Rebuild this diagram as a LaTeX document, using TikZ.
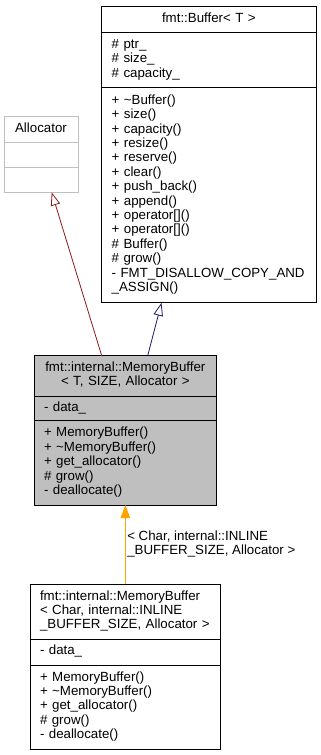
\documentclass[tikz,border=0pt]{standalone}
\usepackage{fontspec}
\setmainfont{Liberation Sans}
\usetikzlibrary{positioning,arrows.meta}
\definecolor{grey75}{HTML}{BFBFBF}
\definecolor{firebrick4}{HTML}{8B1A1A}
\definecolor{midnightblue}{HTML}{191970}
\definecolor{dotorange}{HTML}{FFA500}
\tikzset{
  part/.style={draw, line width=0.8pt, outer sep=0pt, inner xsep=10pt, inner ysep=0pt,
    font=\fontsize{13.3}{14.4}\selectfont,
    execute at begin node=\strut, execute at end node=\strut},
  private/.style={draw=firebrick4, line width=0.8pt, -{Triangle[open, length=13pt, width=9.5pt]}},
  public/.style={draw=midnightblue, line width=0.8pt, -{Triangle[open, length=13pt, width=9.5pt]}},
  tmpl/.style={draw=dotorange, line width=0.8pt, -{Triangle[length=13pt, width=9.5pt]}},
}
\begin{document}
\begin{tikzpicture}[x=1pt, y=-1pt]
  \useasboundingbox (0,0) rectangle (321,755);
  % Allocator
  \node[part, draw=grey75, anchor=north west, minimum height=25.7pt, text width=54pt, align=center] (alloctitle) at (4,116.7) {Allocator};
  \node[part, draw=grey75, below=0pt of alloctitle, minimum height=25pt, text width=54pt] (allocattr) {};
  \node[part, draw=grey75, below=0pt of allocattr, minimum height=25pt, text width=54pt] (allocmeth) {};
  % fmt::Buffer
  \node[part, anchor=north west, minimum height=25.7pt, text width=194.3pt, align=center] (buftitle) at (101.7,6.7) {fmt::Buffer< T >};
  \node[part, below=0pt of buftitle, minimum height=55pt, text width=194.3pt, align=left] (bufattr)
    {\# ptr\_\\\# size\_\\\# capacity\_};
  \node[part, below=0pt of bufattr, minimum height=215.4pt, text width=194.3pt, align=left] (bufmeth)
    {+ \textasciitilde{}Buffer()\\+ size()\\+ capacity()\\+ resize()\\+ reserve()\\+ clear()\\+ push\_back()\\
     + append()\\+ operator[]()\\+ operator[]()\\\# Buffer()\\\# grow()\\- FMT\_DISALLOW\_COPY\_AND\\\_ASSIGN()};
  % fmt::internal::MemoryBuffer
  \node[part, fill=grey75, anchor=north west, minimum height=40.3pt, text width=162.7pt, align=center] (mbtitle) at (34,355.7)
    {fmt::internal::MemoryBuffer\\< T, SIZE, Allocator >};
  \node[part, fill=grey75, below=0pt of mbtitle, minimum height=24.7pt, text width=162.7pt, align=left] (mbattr) {- data\_};
  \node[part, fill=grey75, below=0pt of mbattr, minimum height=84.3pt, text width=162.7pt, align=left] (mbmeth)
    {+ MemoryBuffer()\\+ \textasciitilde{}MemoryBuffer()\\+ get\_allocator()\\\# grow()\\- deallocate()};
  % instance for Char
  \node[part, anchor=north west, minimum height=54.7pt, text width=170.7pt, align=left] (btitle) at (30,584.3)
    {fmt::internal::MemoryBuffer\\< Char, internal::INLINE\\\_BUFFER\_SIZE, Allocator >};
  \node[part, below=0pt of btitle, minimum height=26pt, text width=170.7pt, align=left] (battr) {- data\_};
  \node[part, below=0pt of battr, minimum height=84pt, text width=170.7pt, align=left] (bmeth)
    {+ MemoryBuffer()\\+ \textasciitilde{}MemoryBuffer()\\+ get\_allocator()\\\# grow()\\- deallocate()};
  % inheritance
  \path[private] ([xshift=67.7pt]mbtitle.north west) to ([xshift=47.7pt]allocmeth.south west);
  \path[public] ([xshift=113.7pt]mbtitle.north west) to ([xshift=59.8pt]bufmeth.south west);
  \path[tmpl] (btitle) to node[right, inner xsep=1.5pt, inner ysep=0pt, align=left, font=\fontsize{13.3}{14.4}\selectfont,
      execute at begin node=\strut, execute at end node=\strut] (tlabel)
    {< Char, internal::INLINE\\\_BUFFER\_SIZE, Allocator >} (mbmeth);
\end{tikzpicture}
\end{document}
